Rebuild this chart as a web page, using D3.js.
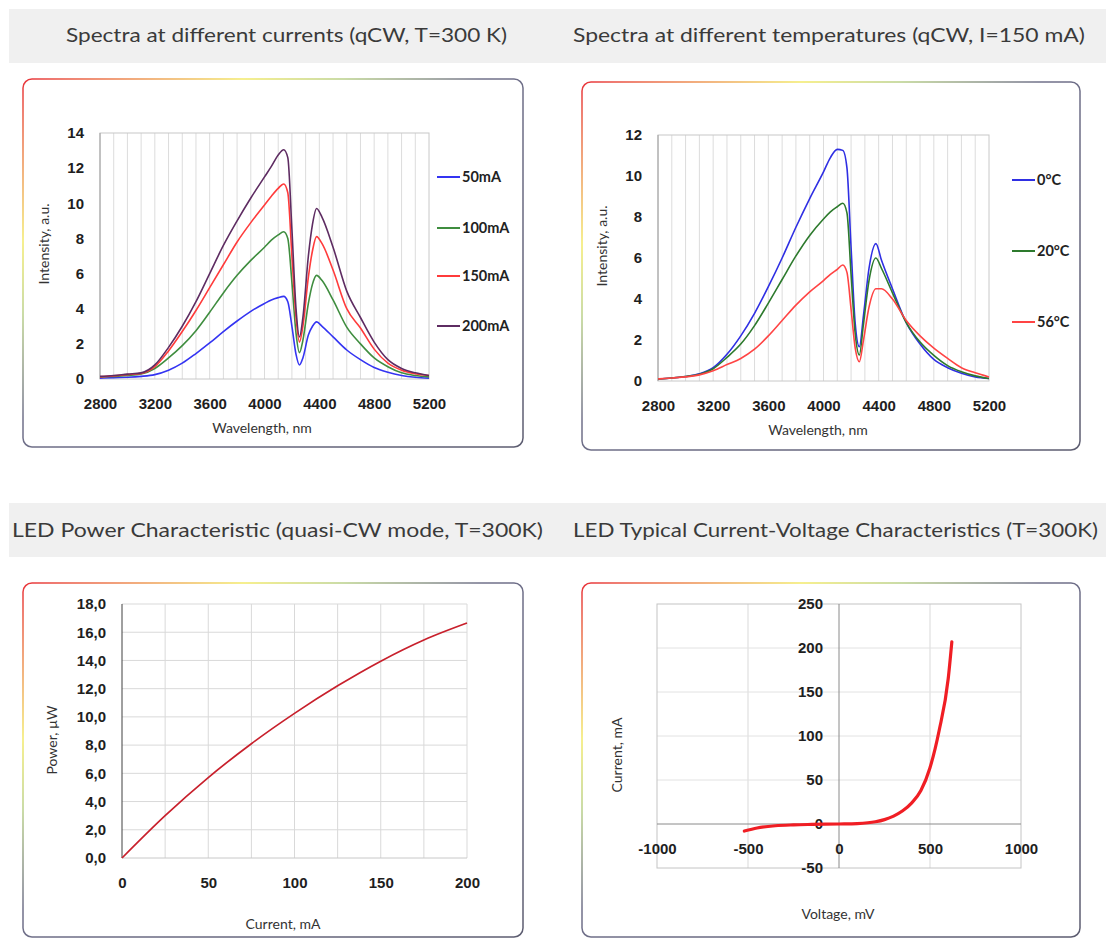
<!DOCTYPE html>
<html lang="en">
<head>
  <meta charset="UTF-8" />
  <title>LED characteristics</title>
  <script src="https://d3js.org/d3.v7.min.js"></script>
  <style>
    body { margin: 0; padding: 0; background: #fff; }
    svg { display: block; font-family: Lato, "Open Sans", sans-serif; }
    .title { font-size: 20px; fill: #3a3a3a; }
    .tick text { font-size: 15px; font-weight: bold; fill: #1e1e1e; }
    .axis-title { font-size: 14px; fill: #333; }
    .legend text { font-size: 14.5px; font-weight: bold; fill: #222; }
  </style>
</head>
<body>
  <svg width="1106" height="940"></svg>
  <script>
    // ---- data ----
    const wlCurrents = [2800, 2900, 3000, 3100, 3200, 3300, 3400, 3500, 3600, 3700, 3800, 3900, 4000, 4050, 4100, 4140, 4170, 4200, 4230, 4255, 4280, 4320, 4350, 4380, 4420, 4500, 4600, 4700, 4800, 4900, 5000, 5100, 5200];
    const i50mA  = [0.05, 0.08, 0.1, 0.15, 0.25, 0.5, 0.9, 1.45, 2.05, 2.7, 3.3, 3.85, 4.3, 4.5, 4.63, 4.7, 4.4, 3.0, 1.4, 0.8, 1.2, 2.5, 3.0, 3.25, 3.0, 2.4, 1.65, 1.1, 0.65, 0.38, 0.2, 0.1, 0.05];
    const i100mA = [0.1, 0.15, 0.2, 0.28, 0.6, 1.2, 1.9, 2.75, 3.8, 4.9, 5.9, 6.75, 7.5, 7.9, 8.2, 8.38, 8.0, 5.5, 2.6, 1.5, 2.2, 4.3, 5.4, 5.9, 5.6, 4.5, 2.95, 2.0, 1.2, 0.7, 0.35, 0.2, 0.12];
    const i150mA = [0.12, 0.18, 0.25, 0.32, 0.7, 1.6, 2.7, 3.9, 5.2, 6.5, 7.8, 8.9, 9.9, 10.4, 10.85, 11.1, 10.6, 7.0, 3.5, 2.1, 3.0, 5.8, 7.3, 8.1, 7.7, 6.2, 4.0, 2.9, 1.7, 0.9, 0.5, 0.3, 0.2];
    const i200mA = [0.15, 0.2, 0.28, 0.35, 0.8, 1.8, 3.0, 4.4, 6.0, 7.6, 9.0, 10.3, 11.5, 12.1, 12.75, 13.05, 12.6, 8.5, 4.0, 2.4, 3.5, 7.0, 8.8, 9.7, 9.2, 7.5, 5.0, 3.5, 2.1, 1.1, 0.6, 0.35, 0.2];
    const currentLabels = ["50mA", "100mA", "150mA", "200mA"];

    const wlTemps = [2800, 2900, 3000, 3100, 3200, 3300, 3400, 3500, 3600, 3700, 3800, 3900, 4000, 4050, 4100, 4140, 4170, 4200, 4230, 4260, 4290, 4330, 4380, 4420, 4500, 4600, 4700, 4800, 4900, 5000, 5100, 5200];
    const t0C  = [0.1, 0.15, 0.22, 0.35, 0.65, 1.3, 2.2, 3.3, 4.6, 6.0, 7.5, 8.9, 10.2, 10.9, 11.3, 11.25, 10.4, 6.5, 2.8, 1.67, 3.2, 5.5, 6.7, 5.9, 4.5, 2.85, 1.8, 1.05, 0.65, 0.38, 0.2, 0.12];
    const t20C = [0.1, 0.15, 0.22, 0.33, 0.6, 1.15, 1.8, 2.7, 3.8, 4.95, 6.1, 7.1, 7.9, 8.25, 8.5, 8.67, 8.2, 5.2, 2.3, 1.27, 2.8, 4.9, 6.0, 5.5, 4.3, 2.85, 1.9, 1.25, 0.75, 0.45, 0.25, 0.12];
    const t56C = [0.1, 0.15, 0.2, 0.3, 0.5, 0.8, 1.1, 1.55, 2.2, 2.95, 3.7, 4.35, 4.9, 5.2, 5.45, 5.66, 5.3, 3.5, 1.6, 0.94, 2.0, 3.6, 4.5, 4.5, 4.0, 2.95, 2.2, 1.6, 1.1, 0.65, 0.4, 0.2];
    const tempLabels = ["0°C", "20°C", "56°C"];

    const ledCurrent = [0, 25, 50, 75, 100, 125, 150, 175, 200];
    const ledPower   = [0, 3.0, 5.7, 8.1, 10.25, 12.2, 13.95, 15.45, 16.65];

    const ivVoltage = [-520, -450, -350, -250, -150, 0, 100, 200, 250, 300, 350, 400, 450, 500, 550, 600, 620];
    const ivCurrent = [-8, -4.5, -2, -1, -0.5, 0, 0.5, 2.5, 5, 9, 15, 24, 38, 64, 106, 165, 207];

    const titles = [
      "Spectra at different currents (qCW, T=300 K)",
      "Spectra at different temperatures (qCW, I=150 mA)",
      "LED Power Characteristic (quasi-CW mode, T=300K)",
      "LED Typical Current-Voltage Characteristics (T=300K)"
    ];

    const svg = d3.select("svg");

    // gradient used on the chart frames
    const grad = svg.append("defs").append("linearGradient")
      .attr("id", "frameGrad")
      .attr("x1", 0).attr("y1", 0).attr("x2", 1).attr("y2", 1);
    [["0", "#e8343c"], ["0.22", "#f3ea6a"], ["0.32", "#b9d08a"], ["0.46", "#70708a"], ["1", "#5c5c70"]]
      .forEach(s => grad.append("stop").attr("offset", s[0]).attr("stop-color", s[1]));

    // title bars
    svg.append("rect").attr("x", 9).attr("y", 9).attr("width", 1097).attr("height", 54).attr("fill", "#f0f0f0");
    svg.append("rect").attr("x", 9).attr("y", 503).attr("width", 1097).attr("height", 54).attr("fill", "#f0f0f0");

    function title(text, x0, x1, y) {
      svg.append("text").attr("class", "title")
        .attr("x", x0).attr("y", y)
        .attr("textLength", x1 - x0).attr("lengthAdjust", "spacingAndGlyphs")
        .text(text);
    }
    title(titles[0], 66, 507, 42);
    title(titles[1], 573, 1085, 42);
    title(titles[2], 12, 543, 537);
    title(titles[3], 573, 1098, 537);

    function frame(x0, y0, x1, y1) {
      svg.append("rect")
        .attr("x", x0).attr("y", y0).attr("width", x1 - x0).attr("height", y1 - y0)
        .attr("rx", 9).attr("ry", 9)
        .attr("fill", "#fff").attr("stroke", "url(#frameGrad)").attr("stroke-width", 1.5);
    }
    frame(23, 79, 523, 447);
    frame(582, 82, 1080, 450);
    frame(23, 583, 523, 937);
    frame(582, 583, 1080, 937);

    function axisTitle(text, x, y, rotate) {
      const t = svg.append("text").attr("class", "axis-title")
        .attr("text-anchor", "middle").attr("dominant-baseline", "middle").text(text);
      if (rotate) t.attr("transform", `translate(${x},${y}) rotate(-90)`);
      else t.attr("x", x).attr("y", y);
    }

    function styleAxis(g) {
      g.select(".domain").remove();
      g.selectAll(".tick line").remove();
    }

    const plain = d => String(d);

    // ---- spectra charts ----
    function spectra(opt) {
      const x = d3.scaleLinear().domain([2800, 5200]).range(opt.xr);
      const y = d3.scaleLinear().domain([0, opt.ymax]).range(opt.yr);
      const g = svg.append("g");

      g.selectAll(".vgrid").data(d3.range(2900, 5200, 100)).join("line")
        .attr("x1", d => x(d)).attr("x2", d => x(d))
        .attr("y1", opt.yr[1]).attr("y2", opt.yr[0])
        .attr("stroke", "#dcdcdc").attr("stroke-width", 1);
      g.append("rect")
        .attr("x", opt.xr[0]).attr("y", opt.yr[1])
        .attr("width", opt.xr[1] - opt.xr[0]).attr("height", opt.yr[0] - opt.yr[1])
        .attr("fill", "none").attr("stroke", "#c8c8c8");
      g.append("line").attr("x1", opt.xr[0]).attr("x2", opt.xr[0])
        .attr("y1", opt.yr[0]).attr("y2", opt.yr[1]).attr("stroke", "#a0a0a0");

      g.append("g").attr("transform", `translate(0,${opt.yr[0]})`)
        .call(d3.axisBottom(x).tickValues(d3.range(2800, 5201, 400)).tickFormat(plain).tickSize(0).tickPadding(19))
        .call(styleAxis);
      g.append("g").attr("transform", `translate(${opt.xr[0]},0)`)
        .call(d3.axisLeft(y).ticks(opt.ymax / 2).tickFormat(plain).tickSize(0).tickPadding(16))
        .call(styleAxis);

      const line = d3.line()
        .x((d, i) => x(opt.wl[i]))
        .y(d => y(d))
        .curve(d3.curveMonotoneX);

      opt.series.forEach((s, k) => {
        g.append("path").attr("d", line(s))
          .attr("fill", "none").attr("stroke", opt.colors[k]).attr("stroke-width", 1.6);
        const lg = g.append("g").attr("class", "legend")
          .attr("transform", `translate(${opt.legendX},${opt.legendY[k]})`);
        lg.append("line").attr("x1", 0).attr("x2", 23).attr("stroke", opt.colors[k]).attr("stroke-width", 2);
        lg.append("text").attr("x", 25).attr("dy", "0.35em").text(opt.labels[k]);
      });

      axisTitle("Wavelength, nm", opt.xTitle[0], opt.xTitle[1], false);
      axisTitle("Intensity, a.u.", opt.yTitle[0], opt.yTitle[1], true);
    }

    spectra({
      xr: [100, 429], yr: [379, 133], ymax: 14,
      wl: wlCurrents,
      series: [i50mA, i100mA, i150mA, i200mA],
      colors: ["#3434f2", "#3f8d3f", "#ff3b3b", "#5e2c62"],
      labels: currentLabels,
      legendX: 437, legendY: [177, 228, 276, 326],
      xTitle: [262, 429], yTitle: [45, 244]
    });

    spectra({
      xr: [658, 989], yr: [381, 135], ymax: 12,
      wl: wlTemps,
      series: [t0C, t20C, t56C],
      colors: ["#2f2fe3", "#2d7a2d", "#ff4444"],
      labels: tempLabels,
      legendX: 1012, legendY: [180, 251, 322],
      xTitle: [818, 431], yTitle: [603, 246]
    });

    // ---- power characteristic ----
    (function () {
      const x = d3.scaleLinear().domain([0, 200]).range([122, 467]);
      const y = d3.scaleLinear().domain([0, 18]).range([858, 604]);
      const g = svg.append("g");
      const comma = d => d3.format(".1f")(d).replace(".", ",");

      g.selectAll(".vg").data(d3.range(25, 201, 25)).join("line")
        .attr("x1", d => x(d)).attr("x2", d => x(d)).attr("y1", 604).attr("y2", 858)
        .attr("stroke", "#d9d9d9");
      g.selectAll(".hg").data(d3.range(2, 19, 2)).join("line")
        .attr("x1", 122).attr("x2", 467).attr("y1", d => y(d)).attr("y2", d => y(d))
        .attr("stroke", "#d9d9d9");
      g.append("line").attr("x1", 122).attr("x2", 467).attr("y1", 858).attr("y2", 858).attr("stroke", "#c8c8c8");
      g.append("line").attr("x1", 122).attr("x2", 122).attr("y1", 604).attr("y2", 858).attr("stroke", "#404040");

      g.append("g").attr("transform", "translate(0,858)")
        .call(d3.axisBottom(x).tickValues(d3.range(0, 201, 50)).tickFormat(plain).tickSize(0).tickPadding(19))
        .call(styleAxis);
      g.append("g").attr("transform", "translate(122,0)")
        .call(d3.axisLeft(y).tickValues(d3.range(0, 19, 2)).tickFormat(comma).tickSize(0).tickPadding(16))
        .call(styleAxis);

      const line = d3.line().x((d, i) => x(ledCurrent[i])).y(d => y(d)).curve(d3.curveMonotoneX);
      g.append("path").attr("d", line(ledPower))
        .attr("fill", "none").attr("stroke", "#c8202c").attr("stroke-width", 1.7);

      axisTitle("Current, mA", 283, 925, false);
      axisTitle("Power, \u00b5W", 53, 740, true);
    })();

    // ---- current-voltage ----
    (function () {
      const x = d3.scaleLinear().domain([-1000, 1000]).range([657, 1021]);
      const y = d3.scaleLinear().domain([-50, 250]).range([868, 604]);
      const g = svg.append("g");

      g.selectAll(".vg").data([-500, 500]).join("line")
        .attr("x1", d => x(d)).attr("x2", d => x(d)).attr("y1", 604).attr("y2", 868)
        .attr("stroke", "#d9d9d9");
      g.selectAll(".hg").data(d3.range(50, 201, 50)).join("line")
        .attr("x1", 657).attr("x2", 1021).attr("y1", d => y(d)).attr("y2", d => y(d))
        .attr("stroke", "#e2e2e2");
      g.append("rect").attr("x", 657).attr("y", 604).attr("width", 364).attr("height", 264)
        .attr("fill", "none").attr("stroke", "#c4c4c4");
      g.append("line").attr("x1", x(0)).attr("x2", x(0)).attr("y1", 604).attr("y2", 868).attr("stroke", "#8a8a8a");
      g.append("line").attr("x1", 657).attr("x2", 1021).attr("y1", y(0)).attr("y2", y(0)).attr("stroke", "#8a8a8a");

      g.append("g").attr("transform", `translate(0,${y(0)})`)
        .call(d3.axisBottom(x).tickValues(d3.range(-1000, 1001, 500)).tickFormat(plain).tickSize(0).tickPadding(19))
        .call(styleAxis);
      g.append("g").attr("transform", `translate(${x(0)},0)`)
        .call(d3.axisLeft(y).tickValues(d3.range(-50, 251, 50)).tickFormat(plain).tickSize(0).tickPadding(16))
        .call(styleAxis);

      const line = d3.line().x((d, i) => x(ivVoltage[i])).y(d => y(d)).curve(d3.curveMonotoneX);
      g.append("path").attr("d", line(ivCurrent))
        .attr("fill", "none").attr("stroke", "#f01e24").attr("stroke-width", 3.2)
        .attr("stroke-linecap", "round");

      axisTitle("Voltage, mV", 838, 915, false);
      axisTitle("Current, mA", 618, 755, true);
    })();
  </script>
</body>
</html>
